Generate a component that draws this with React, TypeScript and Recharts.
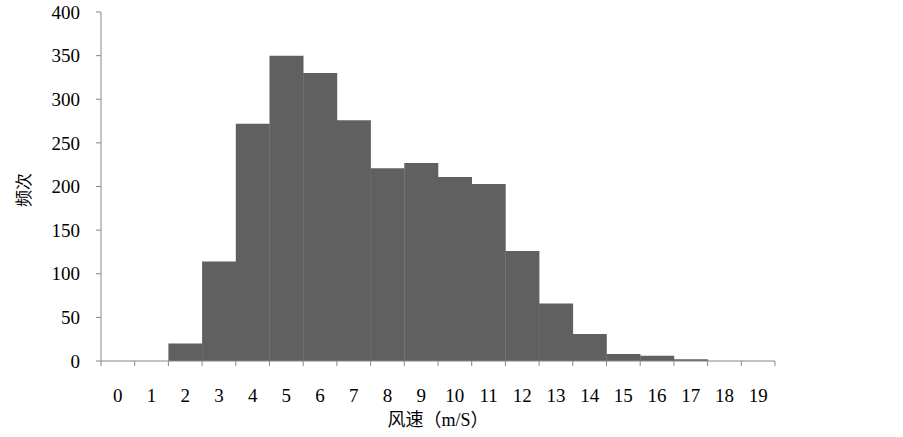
import { BarChart, Bar, XAxis, YAxis, Label } from 'recharts';

// wind speed bins (m/s) and how often each occurred
const speeds = ['0', '1', '2', '3', '4', '5', '6', '7', '8', '9', '10', '11', '12', '13', '14', '15', '16', '17', '18', '19'];
const counts = [0, 0, 20, 114, 272, 350, 330, 276, 221, 227, 211, 203, 126, 66, 31, 8, 6, 2, 0, 0];
const yTicks = [0, 50, 100, 150, 200, 250, 300, 350, 400];

const data = speeds.map((s, i) => ({ speed: s, count: counts[i] }));

const W = 903;
const H = 437;
const LEFT = 101;
const RIGHT = 128;
const BAND = (W - LEFT - RIGHT) / speeds.length;
const AXIS = '#878787';
const FONT = '"Liberation Serif", "Noto Sans CJK SC", serif';

const XTick = (props: any) => {
  const { x, y, payload, index } = props;
  const half = BAND / 2;
  return (
    <g>
      <line x1={x - half} y1={y} x2={x - half} y2={y + 5} stroke={AXIS} />
      {index === speeds.length - 1 && (
        <line x1={x + half} y1={y} x2={x + half} y2={y + 5} stroke={AXIS} />
      )}
      <text x={x} y={y + 41} textAnchor="middle" fill="#000" fontSize={19} fontFamily={FONT}>
        {payload.value}
      </text>
    </g>
  );
};

export default function App() {
  return (
    <div style={{ width: W, height: H, background: '#fff' }}>
      <style>{'body{margin:0}'}</style>
      <BarChart
        width={W}
        height={H}
        data={data}
        margin={{ top: 12, right: RIGHT, bottom: 0, left: 0 }}
        barCategoryGap={0}
      >
        <XAxis
          dataKey="speed"
          interval={0}
          height={76}
          tickSize={0}
          tickMargin={0}
          tickLine={false}
          axisLine={{ stroke: AXIS }}
          tick={<XTick />}
        >
          <Label
            content={() => (
              <text x={438} y={426} textAnchor="middle" fill="#000" fontSize={18} fontFamily={FONT}>
                风速（m/S）
              </text>
            )}
          />
        </XAxis>
        <YAxis
          width={LEFT}
          domain={[0, 400]}
          ticks={yTicks}
          interval={0}
          tickSize={5}
          tickMargin={16}
          axisLine={{ stroke: AXIS }}
          tickLine={{ stroke: AXIS }}
          tick={{ fill: '#000', fontSize: 19, fontFamily: FONT }}
        >
          <Label
            content={() => (
              <text
                x={24}
                y={190}
                transform="rotate(-90 24 190)"
                textAnchor="middle"
                dominantBaseline="central"
                fill="#000"
                fontSize={17}
                fontFamily={FONT}
              >
                频次
              </text>
            )}
          />
        </YAxis>
        <Bar dataKey="count" fill="#606060" isAnimationActive={false} />
      </BarChart>
    </div>
  );
}
